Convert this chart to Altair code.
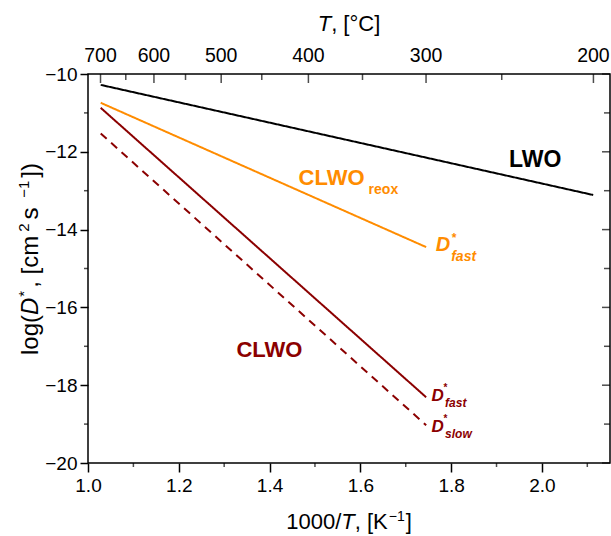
import altair as alt
import pandas as pd

FONT = "Liberation Sans"
ORANGE = "#ff8c00"
DARKRED = "#8b0000"

# ---------------- data (1000/T in K^-1, log D*) ----------------
series_names = ["LWO", "CLWOreox fast", "CLWO fast", "CLWO slow"]
lwo_x = [1.028, 2.113]
lwo_y = [-10.28, -13.11]
reox_x = [1.028, 1.745]
reox_y = [-10.74, -14.45]
fast_x = [1.028, 1.745]
fast_y = [-10.87, -18.31]
slow_x = [1.028, 1.745]
slow_y = [-11.53, -19.03]

x_major = [1.0, 1.2, 1.4, 1.6, 1.8, 2.0]
x_minor = [1.1, 1.3, 1.5, 1.7, 1.9, 2.1]
y_major = [-10, -12, -14, -16, -18, -20]
y_minor = [-11, -13, -15, -17, -19]
t_major = [700, 600, 500, 400, 300, 200]   # top axis, deg C
t_minor = [650, 550, 450, 350, 250]

X_DOMAIN = [1.0, 2.15]
Y_DOMAIN = [-20, -10]

rows = []
for name, xs, ys in zip(series_names, [lwo_x, reox_x, fast_x, slow_x],
                        [lwo_y, reox_y, fast_y, slow_y]):
    for xv, yv in zip(xs, ys):
        rows.append({"series": name, "x": xv, "y": yv})
df_lines = pd.DataFrame(rows)

W, H = 522, 389
xscale = alt.Scale(domain=X_DOMAIN, nice=False, zero=False)
yscale = alt.Scale(domain=Y_DOMAIN, nice=False, zero=False)

XAXIS = alt.Axis(
    values=x_major, format=".1f", title=None, grid=False, domain=False,
    tickSize=9, tickWidth=1.5, tickColor="black",
    labelFont=FONT, labelFontSize=19, labelColor="black",
    labelPadding=4, labelFlush=False, labelOverlap=False)
YAXIS = alt.Axis(
    values=y_major, format="d", title=None, grid=False, domain=False,
    tickSize=8, tickWidth=1.5, tickColor="black",
    labelFont=FONT, labelFontSize=19, labelColor="black",
    labelPadding=3, labelFlush=False, labelOverlap=False)


def X(field="x:Q"):
    return alt.X(field, scale=xscale, axis=XAXIS)


def Y(field="y:Q"):
    return alt.Y(field, scale=yscale, axis=YAXIS)


# approximate advance widths (Arial / Liberation Sans, 1/1000 em)
REG = {"l": 222, "o": 556, "g": 556, "(": 333, ")": 333, "D": 722, "*": 389,
       ",": 278, " ": 278, "[": 278, "]": 278, "c": 500, "m": 833, "2": 556,
       "s": 500, "\u2212": 584, "1": 556, "0": 556, "/": 278, "T": 611,
       "K": 667, "\u00b0": 400, "C": 722}


def tw(s, size):
    return sum(REG.get(c, 556) for c in s) * size / 1000.0


one = pd.DataFrame({"v": [0]})


def ptext(txt, px, py, size, italic=False, angle=0, color="black"):
    return alt.Chart(one).mark_text(
        text=txt, font=FONT, fontSize=size,
        fontStyle="italic" if italic else "normal",
        align="left", baseline="alphabetic", angle=angle, color=color,
    ).encode(x=alt.value(px), y=alt.value(py))


def dtext(txt, x, y, size, color, italic=False, dx=0, dy=0, align="left"):
    d = pd.DataFrame({"x": [x], "y": [y], "t": [txt]})
    return alt.Chart(d).mark_text(
        font=FONT, fontSize=size, fontWeight="bold",
        fontStyle="italic" if italic else "normal",
        align=align, baseline="alphabetic", color=color, dx=dx, dy=dy,
    ).encode(x=X(), y=Y(), text="t:N")


def ticks(xs, ys, orient, size, xo=0, yo=0):
    d = pd.DataFrame({"x": xs, "y": ys})
    return alt.Chart(d).mark_tick(
        orient=orient, size=size, thickness=1.5, color="black",
        xOffset=xo, yOffset=yo,
    ).encode(x=X(), y=Y())


# ---------------- main lines ----------------
lines = alt.Chart(df_lines).mark_line(strokeWidth=2).encode(
    x=X(), y=Y(),
    color=alt.Color("series:N", legend=None, scale=alt.Scale(
        domain=series_names, range=["black", ORANGE, DARKRED, DARKRED])),
    strokeDash=alt.StrokeDash("series:N", legend=None, scale=alt.Scale(
        domain=series_names, range=[[1, 0], [1, 0], [1, 0], [8, 6]])),
)

# ---------------- tick marks ----------------
t_major_x = [1000.0 / (t + 273.15) for t in t_major]
t_minor_x = [1000.0 / (t + 273.15) for t in t_minor]
tick_layers = [
    ticks(x_minor, [-20] * len(x_minor), "vertical", 4, yo=2),
    ticks([1.0] * len(y_minor), y_minor, "horizontal", 4, xo=-2),
    ticks(t_major_x, [-10] * len(t_major_x), "vertical", 9, yo=4.5),
    ticks(t_minor_x, [-10] * len(t_minor_x), "vertical", 6, yo=3),
    ticks([2.15] * len(y_major), y_major, "horizontal", 8, xo=-4),
    ticks([2.15] * len(y_minor), y_minor, "horizontal", 6, xo=-3),
]

# top axis labels (deg C)
df_top = pd.DataFrame({"x": t_major_x, "y": [-10] * len(t_major),
                       "t": [str(t) for t in t_major]})
top_labels = alt.Chart(df_top).mark_text(
    font=FONT, fontSize=19.5, color="black", baseline="alphabetic", dy=-12,
).encode(x=X(), y=Y(), text="t:N")

# ---------------- axis titles (pieces with italic / superscripts) ----------------
TS = 22   # title size
SS = 14   # superscript size
title_layers = []

# top: "T, [°C]"
parts = [("T", TS, True, 0, 0), (", [\u00b0C]", TS, False, 0, 0)]
total = sum(tw(p[0], p[1]) + p[4] for p in parts)
cx = W / 2 - total / 2
for txt, sz, it, up, gap in parts:
    title_layers.append(ptext(txt, cx, -43 - up, sz, italic=it))
    cx += tw(txt, sz) + gap

# bottom: "1000/T, [K^-1]"
parts = [("1000/", TS, False, 0, 0), ("T", TS, True, 0, 0), (", [K", TS, False, 0, 1),
         ("\u22121", SS, False, 8, 1), ("]", TS, False, 0, 0)]
total = sum(tw(p[0], p[1]) + p[4] for p in parts)
cx = W / 2 - total / 2
for txt, sz, it, up, gap in parts:
    title_layers.append(ptext(txt, cx, 455 - up, sz, italic=it))
    cx += tw(txt, sz) + gap

# left: "log(D*, [cm^2 s^-1])"  rotated
YS = 24
YSS = 15
parts = [("log(", YS, False, 0, 0), ("D", YS, True, 0, 1), ("*", YSS, False, 9, 3),
         (", [cm", YS, False, 0, 4), ("2", YSS, False, 9, 4), (" s", YS, False, 0, 3),
         ("\u22121", YSS, False, 9, 3), ("])", YS, False, 0, 0)]
cy = 281
for txt, sz, it, up, gap in parts:
    title_layers.append(ptext(txt, -50 - up, cy, sz, italic=it, angle=270))
    cy -= tw(txt, sz) + gap

# ---------------- in-plot annotations ----------------
ann = [
    dtext("LWO", 1.985, -12.40, 23, "black", align="center"),
    dtext("CLWO", 1.464, -12.853, 22, ORANGE),
    dtext("reox", 1.464, -12.853, 14, ORANGE, dx=70, dy=9),
    dtext("D", 1.766, -14.542, 20, ORANGE, italic=True),
    dtext("*", 1.766, -14.542, 12, ORANGE, dx=16, dy=-9),
    dtext("fast", 1.766, -14.542, 14, ORANGE, italic=True, dx=15.5, dy=10),
    dtext("CLWO", 1.327, -17.275, 22, DARKRED),
    dtext("D", 1.757, -18.406, 17, DARKRED, italic=True),
    dtext("*", 1.757, -18.406, 10, DARKRED, dx=12, dy=-10),
    dtext("fast", 1.757, -18.406, 12, DARKRED, italic=True, dx=13.5, dy=6.3),
    dtext("D", 1.757, -19.21, 17, DARKRED, italic=True),
    dtext("*", 1.757, -19.21, 10, DARKRED, dx=12, dy=-10),
    dtext("slow", 1.757, -19.21, 12, DARKRED, italic=True, dx=13.5, dy=6),
]

chart = alt.layer(lines, *tick_layers, top_labels, *title_layers, *ann).properties(
    width=W, height=H,
    autosize=alt.AutoSizeParams(type="none"),
    padding={"left": 88, "top": 74, "right": 1, "bottom": 73},
    background="white",
).configure_view(stroke="black", strokeWidth=1.5)

chart.save("out.html", embed_options={"renderer": "svg", "actions": False})
